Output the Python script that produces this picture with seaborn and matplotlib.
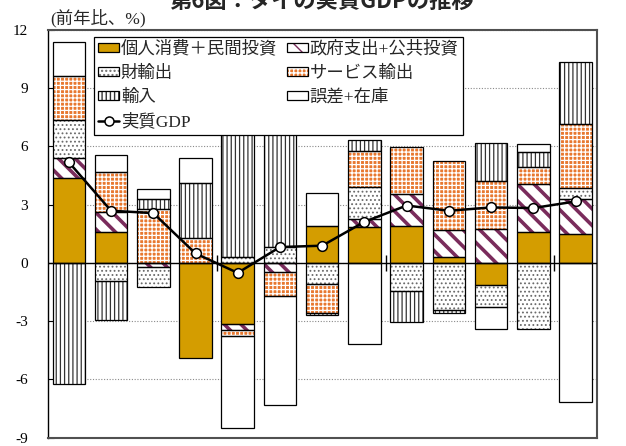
import numpy as np
import pandas as pd
import matplotlib
matplotlib.use('Agg')
import matplotlib.pyplot as plt
import matplotlib.patches as mpatches
from matplotlib.lines import Line2D
from matplotlib.legend_handler import HandlerTuple
import seaborn as sns

# ---------------- data (contribution to real GDP growth, %pt) ----------------
periods = [f'P{i}' for i in range(1, 14)]
private_cons_inv = [4.40, 1.58, 0.00, -4.89, -3.12, 0.00, 1.92, 1.85, 1.88, 0.31, -1.13, 1.61, 1.51]
gov_public_inv = [1.00, 1.02, -0.21, 0.00, -0.35, -0.46, 0.00, 0.44, 1.67, 1.37, 1.75, 2.45, 1.80]
goods_exports = [1.97, -0.95, -1.02, 0.00, 0.31, 0.82, -1.08, 1.62, -1.46, -2.40, -1.15, -3.38, 0.55]
service_exports = [2.28, 2.11, 2.78, 1.27, -0.27, -1.26, -1.49, 1.87, 2.42, 3.58, 2.48, 0.88, 3.30]
imports = [-6.22, -2.00, 0.53, 2.84, 7.67, 7.29, -0.12, 0.56, -1.57, -0.20, 1.97, 0.77, 3.18]
errors_stock = [1.75, 0.86, 0.49, 1.29, -4.75, -5.57, 1.68, -4.17, 0.00, 0.00, -1.12, 0.41, -7.15]
real_gdp = [5.19, 2.69, 2.57, 0.49, -0.51, 0.82, 0.89, 2.12, 2.96, 2.69, 2.86, 2.83, 3.17]

series_names = ['個人消費＋民間投資', '政府支出+公共投資', '財輸出', 'サービス輸出', '輸入', '誤差+在庫']
gdp_name = '実質GDP'
y_ticks = [-9, -6, -3, 0, 3, 6, 9, 12]
group_size = 4

# ---------------- styles ----------------
styles = {
    '個人消費＋民間投資': dict(face='#D49D00', hatch=None, hcol='#D49D00', hlw=1.0),
    '政府支出+公共投資': dict(face='white', hatch='\\\\', hcol='#7A2C5C', hlw=2.6),
    '財輸出': dict(face='white', hatch='....', hcol='#6a6a6a', hlw=0.8),
    'サービス輸出': dict(face='#E8782F', hatch='++++', hcol='white', hlw=0.9),
    '輸入': dict(face='white', hatch='||||', hcol='#333333', hlw=0.9),
    '誤差+在庫': dict(face='white', hatch=None, hcol='white', hlw=1.0),
}

sns.set_style('white')
plt.rcParams['font.family'] = ['Liberation Serif', 'Noto Sans CJK JP']
plt.rcParams['axes.unicode_minus'] = False

W, H = 626, 446
fig = plt.figure(figsize=(W / 100, H / 100), dpi=100)
left_px, right_px, top_px, bottom_px = 47.7, 596.7, 30.0, 437.7
ax = fig.add_axes([left_px / W, 1 - bottom_px / H, (right_px - left_px) / W, (bottom_px - top_px) / H])
ax.set_facecolor('white')

df = pd.DataFrame({
    'period': periods,
    series_names[0]: private_cons_inv,
    series_names[1]: gov_public_inv,
    series_names[2]: goods_exports,
    series_names[3]: service_exports,
    series_names[4]: imports,
    series_names[5]: errors_stock,
    gdp_name: real_gdp,
})
x = np.arange(len(df))
bar_w = 0.77

pos_cum = np.zeros(len(df))
neg_cum = np.zeros(len(df))


def set_hlw(artist, lw):
    if hasattr(artist, 'set_hatch_linewidth'):
        artist.set_hatch_linewidth(lw)


handles = {}
for name in series_names:
    vals = df[name].to_numpy(dtype=float)
    bottoms = np.where(vals >= 0, pos_cum, neg_cum)
    mask = vals != 0
    st = styles[name]
    with plt.rc_context({'hatch.linewidth': st['hlw']}):
        fill = ax.bar(x[mask], vals[mask], bottom=bottoms[mask], width=bar_w,
                      color=st['face'], hatch=st['hatch'], edgecolor=st['hcol'],
                      linewidth=0, zorder=2)
        for p in fill:
            set_hlw(p, st['hlw'])
        ax.bar(x[mask], vals[mask], bottom=bottoms[mask], width=bar_w,
               fill=False, edgecolor='black', linewidth=0.9, zorder=2.5)
        pf = mpatches.Patch(facecolor=st['face'], hatch=st['hatch'], edgecolor=st['hcol'], linewidth=0)
        set_hlw(pf, st['hlw'])
    po = mpatches.Patch(fill=False, edgecolor='black', linewidth=0.9)
    handles[name] = (pf, po)
    pos_cum = pos_cum + np.where(vals > 0, vals, 0)
    neg_cum = neg_cum + np.where(vals < 0, vals, 0)

# zero line and category-group ticks on it
ax.axhline(0, color='black', lw=1.0, zorder=3)
bounds = np.arange(group_size, len(df), group_size) - 0.5
ax.plot(bounds, np.zeros_like(bounds), ls='none', marker='|', ms=11, mew=1.0,
        color='black', zorder=3)

# real GDP line
sns.lineplot(x=x, y=df[gdp_name].to_numpy(), ax=ax, color='black', lw=1.8,
             marker='o', markersize=7, markerfacecolor='white',
             markeredgecolor='black', markeredgewidth=1.1, zorder=6, legend=False)
gdp_handle = Line2D([], [], color='black', lw=1.8, marker='o', markersize=6.5,
                    markerfacecolor='white', markeredgecolor='black', markeredgewidth=1.1)

ax.set_xlim(-0.5, len(df) - 0.5)
ax.set_ylim(min(y_ticks), max(y_ticks))
ax.set_yticks(y_ticks)
ax.set_yticklabels([str(t) for t in y_ticks])
ax.set_xticks([])
ax.set_xlabel('')
ax.set_ylabel('')
ax.yaxis.grid(True, color='#8a8a8a', lw=0.8, ls=(0, (1, 1.5)), zorder=0)
ax.set_axisbelow(True)
ax.tick_params(axis='y', direction='in', length=4, width=0.8, pad=14,
               labelsize=11, colors='black', left=True)

for side in ['top', 'right', 'bottom']:
    ax.spines[side].set_color('#505050')
    ax.spines[side].set_linewidth(1.5)
ax.spines['left'].set_color('black')
ax.spines['left'].set_linewidth(1.0)

leg_handles = [handles[series_names[0]], handles[series_names[2]], handles[series_names[4]], gdp_handle,
               handles[series_names[1]], handles[series_names[3]], handles[series_names[5]]]
leg_labels = [series_names[0], series_names[2], series_names[4], gdp_name,
              series_names[1], series_names[3], series_names[5]]
leg = ax.legend(leg_handles, leg_labels, ncol=2, loc='upper left',
                bbox_to_anchor=((94 - left_px) / (right_px - left_px), (bottom_px - 36.7) / (bottom_px - top_px)),
                borderaxespad=0, frameon=True, fancybox=False, framealpha=1,
                edgecolor='black', fontsize=12.5, handlelength=1.2, handleheight=0.45,
                handletextpad=0.1, columnspacing=0.55, labelspacing=0.45, borderpad=0.25,
                handler_map={tuple: HandlerTuple(ndivide=1, pad=0)})
leg.get_frame().set_linewidth(0.9)
leg.set_zorder(10)

cx = (left_px + right_px) / 2 / W
fig.text(cx, 1 - 13 / H, '第6図：タイの実質GDPの推移', ha='center', va='bottom',
         fontsize=16, fontweight='bold', family=['Noto Sans CJK JP', 'DejaVu Sans'])
fig.text(50 / W, 1 - 27 / H, '(前年比、%)', ha='left', va='bottom', fontsize=12.5)

fig.savefig('out.png', dpi=100)
